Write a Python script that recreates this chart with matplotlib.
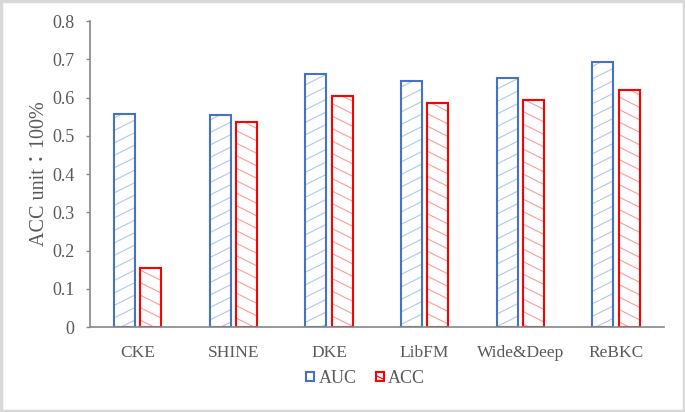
import numpy as np
import matplotlib.pyplot as plt
from matplotlib import hatch as mhatch
from matplotlib.path import Path
from matplotlib.patches import Patch, Rectangle

models = ['CKE', 'SHINE', 'DKE', 'LibFM', 'Wide&Deep', 'ReBKC']
auc = [0.558, 0.554, 0.661, 0.643, 0.652, 0.692]
acc = [0.154, 0.535, 0.604, 0.586, 0.594, 0.620]


# shallow diagonal hatch like the Excel pattern (slope 0.5 instead of 45 deg)
class ShallowHatch(mhatch.HatchPatternBase):
    char = '/'
    flip = False

    def __init__(self, hatch, density):
        self.num_lines = 8 * hatch.count(self.char)
        self.num_vertices = self.num_lines * 4

    def set_vertices_and_codes(self, vertices, codes):
        s = 0.5
        pts = []
        for k in range(self.num_lines):
            y0 = k / self.num_lines
            if y0 + s <= 1:
                pts += [(0, y0), (1, y0 + s), (1, y0 + s), (1, y0 + s)]
            else:
                x1 = (1 - y0) / s
                pts += [(0, y0), (x1, 1), (x1, 0), (1, y0 + s - 1)]
        pts = np.array(pts, float)
        if self.flip:
            pts[:, 1] = 1 - pts[:, 1]
        vertices[:] = pts
        codes[0::2] = Path.MOVETO
        codes[1::2] = Path.LINETO


class ShallowDown(ShallowHatch):
    char = '\\'
    flip = True


mhatch._hatch_types = [t for t in mhatch._hatch_types
                       if t not in (mhatch.NorthEastHatch, mhatch.SouthEastHatch)]
mhatch._hatch_types += [ShallowHatch, ShallowDown]

plt.rcParams['font.family'] = ['Liberation Serif', 'Noto Sans CJK TC']
plt.rcParams['hatch.linewidth'] = 0.8

fig = plt.figure(figsize=(6.85, 4.12), dpi=100)
ax = fig.add_axes([0.131, 0.206, 0.838, 0.743])

x = np.arange(len(models))
w = 0.22
off = 0.138

# hatch (light colour) and outline (dark colour) drawn separately
ax.bar(x - off, auc, w, color='white', edgecolor='#b4c7e7', hatch='/', linewidth=0)
ax.bar(x - off, auc, w, fill=False, edgecolor='#4472c4', linewidth=1.5)
ax.bar(x + off, acc, w, color='white', edgecolor='#ff9a9a', hatch='\\', linewidth=0)
ax.bar(x + off, acc, w, fill=False, edgecolor='#ff0000', linewidth=1.5)

ax.set_xlim(-0.5, len(models) - 0.5)
ax.set_ylim(0, 0.8)
ax.set_yticks(np.arange(0, 0.81, 0.1))
ax.set_yticklabels(['0'] + ['%.1f' % v for v in np.arange(0.1, 0.81, 0.1)])
ax.set_xticks(x)
ax.set_xticklabels(models)
ax.tick_params(axis='x', length=0, pad=13, labelsize=12.5, labelcolor='#595959')
ax.tick_params(axis='y', length=3, width=1, color='#868686', pad=8,
               labelsize=13, labelcolor='#595959')
for s in ['top', 'right']:
    ax.spines[s].set_visible(False)
ax.spines['left'].set_color('#868686')
ax.spines['bottom'].set_color('#868686')
ax.spines['left'].set_linewidth(1.2)
ax.spines['bottom'].set_linewidth(1.2)

ax.set_ylabel('ACC unit：100%', fontsize=14.5, color='#595959', labelpad=2)

handles = [Patch(facecolor='white', edgecolor='#4472c4', linewidth=1.5),
           Patch(facecolor='white', edgecolor='#ff0000', hatch='\\', linewidth=1.5)]
fig.legend(handles, ['AUC', 'ACC'], loc='center', bbox_to_anchor=(0.534, 0.082),
           ncol=2, frameon=False, fontsize=13, handlelength=0.42, handleheight=0.42,
           handletextpad=0.25, columnspacing=1.1, labelcolor='#595959')

fig.patches.append(Rectangle((0.002, 0.003), 0.996, 0.994, transform=fig.transFigure,
                             fill=False, edgecolor='#d9d9d9', linewidth=2.5))

fig.savefig('out.png', dpi=100)
